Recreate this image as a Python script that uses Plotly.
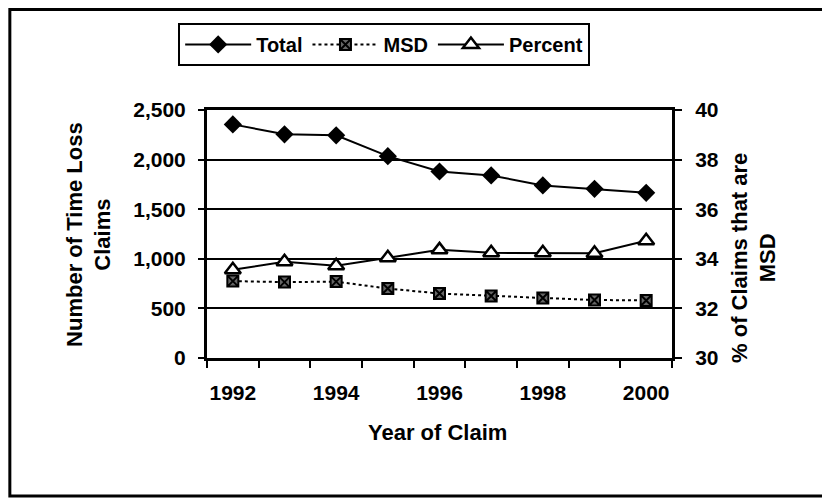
import plotly.graph_objects as go

years = [1992, 1993, 1994, 1995, 1996, 1997, 1998, 1999, 2000]
total = [2355, 2255, 2245, 2035, 1880, 1840, 1740, 1705, 1665]
msd = [775, 765, 770, 700, 650, 625, 605, 585, 580]
percent = [33.56, 33.88, 33.72, 34.04, 34.36, 34.24, 34.24, 34.22, 34.73]
xtick_vals = [1992, 1994, 1996, 1998, 2000]
xtick_text = ["1992", "1994", "1996", "1998", "2000"]

FONT = "Liberation Sans"
TICKF = dict(family=FONT, size=21, color="black", weight="bold")
TITLEF = dict(family=FONT, size=22, color="black", weight="bold")

fig = go.Figure()
fig.add_trace(go.Scatter(
    x=years, y=total, name="Total", mode="lines+markers",
    line=dict(color="black", width=2),
    marker=dict(symbol="diamond", size=14, color="black"),
))
fig.add_trace(go.Scatter(
    x=years, y=msd, name="MSD", mode="lines+markers",
    line=dict(color="black", width=2, dash="dot"),
    marker=dict(symbol="square-x", size=11, color="#666666", line=dict(width=2, color="black")),
))
fig.add_trace(go.Scatter(
    x=years, y=percent, name="Percent", mode="lines+markers", yaxis="y2",
    line=dict(color="black", width=2),
    marker=dict(symbol="triangle-up", size=14, color="white", line=dict(width=2.5, color="black")),
))

fig.update_layout(
    width=830, height=498,
    margin=dict(l=199, r=166, t=102, b=148),
    paper_bgcolor="white", plot_bgcolor="white",
    font=dict(family=FONT, size=20, color="black", weight="bold"),
    showlegend=True,
    legend=dict(
        orientation="h", x=-0.062, y=1.351, xanchor="left", yanchor="top",
        bordercolor="black", borderwidth=2, bgcolor="white",
        font=dict(family=FONT, size=20, color="black", weight="bold"),
        itemwidth=66, tracegroupgap=0,
    ),
    xaxis=dict(
        range=[1991.5, 2000.5],
        tickmode="array", tickvals=xtick_vals, ticktext=xtick_text,
        ticks="", showgrid=False, zeroline=False,
        showline=True, linecolor="black", linewidth=3, mirror=True,
        ticklabelstandoff=14,
        tickfont=TICKF,
        minor=dict(tickmode="array", tickvals=[y - 0.5 for y in years] + [2000.5],
                   ticks="outside", ticklen=7, tickwidth=2, tickcolor="black", showgrid=False),
    ),
    yaxis=dict(
        range=[0, 2500], tickmode="linear", tick0=0, dtick=500, tickformat=",",
        showgrid=True, gridcolor="black", gridwidth=2, zeroline=False,
        showline=True, linecolor="black", linewidth=3,
        ticks="outside", ticklen=6, tickwidth=2, tickcolor="black",
        ticklabelstandoff=8,
        tickfont=TICKF,
    ),
    yaxis2=dict(
        range=[30, 40], tickmode="linear", tick0=30, dtick=2,
        overlaying="y", side="right", showgrid=False, zeroline=False,
        showline=True, linecolor="black", linewidth=3,
        ticks="outside", ticklen=7, tickwidth=2, tickcolor="black",
        ticklabelstandoff=9,
        tickfont=TICKF,
    ),
    annotations=[
        dict(text="Number of Time Loss<br>Claims", xref="paper", yref="paper",
             x=-0.254, y=0.5, xanchor="center", yanchor="middle", textangle=-90,
             showarrow=False, font=TITLEF),
        dict(text="% of Claims that are<br>MSD", xref="paper", yref="paper",
             x=1.175, y=0.405, xanchor="center", yanchor="middle", textangle=-90,
             showarrow=False, font=TITLEF),
        dict(text="Year of Claim", xref="paper", yref="paper",
             x=0.495, y=-0.302, xanchor="center", yanchor="middle",
             showarrow=False, font=TITLEF),
    ],
    shapes=[
        dict(type="rect", xref="paper", yref="paper",
             x0=-0.424, x1=1.4, y0=-0.556, y1=1.405,
             line=dict(color="black", width=3), fillcolor="rgba(0,0,0,0)", layer="below"),
    ],
)

fig.write_html("out.html")
